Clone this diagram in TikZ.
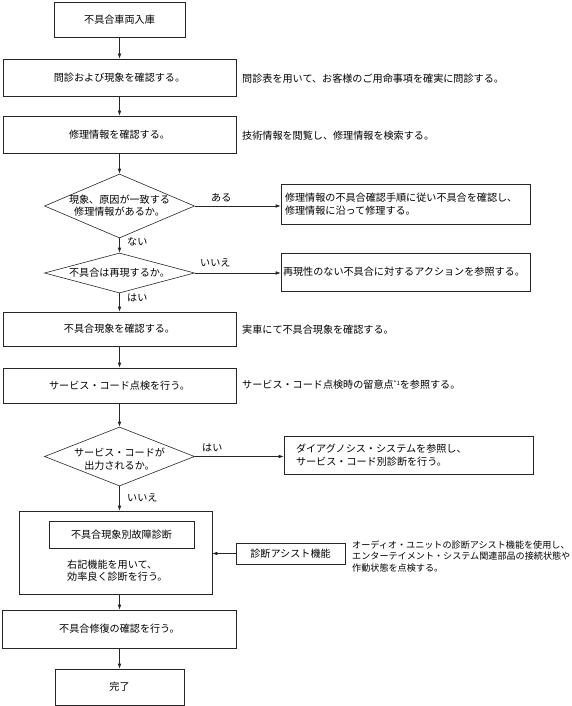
\documentclass[tikz,border=0pt]{standalone}
\usepackage{fontspec}
\setmainfont{Noto Sans CJK JP}
\usetikzlibrary{shapes.geometric,arrows.meta}
\begin{document}
\begin{tikzpicture}[x=1pt,y=-1pt,
  every node/.style={font=\fontsize{10.1}{13}\selectfont, text=black},
  box/.style={draw=black!85, line width=0.6pt, inner sep=0pt, align=center},
  dia/.style={draw=black!85, line width=0.6pt, diamond, inner sep=0pt, minimum width=150pt, minimum height=#1},
  lbl/.style={inner sep=0pt, anchor=west},
  note/.style={inner sep=0pt, anchor=west, align=left},
  arr/.style={draw=black!85, line width=0.6pt, -{Latex[length=5pt,width=3.6pt]}}]
\useasboundingbox (0,0) rectangle (572,706);

\node[box, minimum width=131pt, minimum height=35pt] (b1) at (119.5,19.5) {不具合車両入庫};
\node[box, minimum width=233pt, minimum height=37pt] (b2) at (119.5,77.5) {問診および現象を確認する。};
\node[note] (t2) at (242,79) {問診表を用いて、お客様のご用命事項を確実に問診する。};
\node[box, minimum width=233pt, minimum height=37pt] (b3) at (119.5,134.5) {修理情報を確認する。};
\node[note] (t3) at (242,136) {技術情報を閲覧し、修理情報を検索する。};

\node[dia=64pt] (d1) at (119.5,206) {};
\node[align=center, inner sep=0pt, font=\fontsize{10.1}{12}\selectfont] (d1t) at (119.5,206) {現象、原因が一致する\\修理情報があるか。};
\node[box, minimum width=249pt, minimum height=40pt, text width=241pt, inner xsep=4pt, align=left] (b4) at (405.5,204) {修理情報の不具合確認手順に従い不具合を確認し、\\修理情報に沿って修理する。};
\node[lbl] (l1) at (211,198) {ある};
\node[lbl] (l2) at (127,242) {ない};

\node[dia=40pt] (d2) at (119.5,273) {};
\node[inner sep=0pt] (d2t) at (119.5,273) {不具合は再現するか。};
\node[box, minimum width=249pt, minimum height=38pt, text width=245pt, inner xsep=2pt, align=left] (b5) at (405.5,272) {再現性のない不具合に対するアクションを参照する。};
\node[lbl] (l3) at (200,263) {いいえ};
\node[lbl] (l4) at (127,298) {はい};

\node[box, minimum width=233pt, minimum height=34pt] (b6) at (119.5,329) {不具合現象を確認する。};
\node[note] (t6) at (242,330) {実車にて不具合現象を確認する。};
\node[box, minimum width=233pt, minimum height=35pt] (b7) at (119.5,385.5) {サービス・コード点検を行う。};
\node[note] (t7) at (242,385) {サービス・コード点検時の留意点{\fontsize{6}{6}\selectfont\raisebox{3pt}{*1}}を参照する。};

\node[dia=59pt] (d3) at (119.5,456.5) {};
\node[align=center, inner sep=0pt, font=\fontsize{10.1}{13}\selectfont] (d3t) at (119.5,459) {サービス・コードが\\出力されるか。};
\node[box, minimum width=249pt, minimum height=38pt, text width=225pt, inner xsep=12pt, align=left] (b8) at (408.5,455) {ダイアグノシス・システムを参照し、\\サービス・コード別診断を行う。};
\node[lbl] (l5) at (202,448) {はい};
\node[lbl] (l6) at (127,498) {いいえ};

\node[box, minimum width=193pt, minimum height=83pt] (b9) at (115.5,552.5) {};
\node[box, minimum width=145pt, minimum height=27pt] (b9a) at (121.5,534.5) {不具合現象別故障診断};
\node[note, font=\fontsize{10.1}{12}\selectfont] (b9t) at (67,570.5) {右記機能を用いて、\\効率良く診断を行う。};
\node[box, minimum width=109pt, minimum height=21pt] (as) at (290.5,553.5) {診断アシスト機能};
\node[note, font=\fontsize{9.1}{11.5}\selectfont] (ast) at (352,556.5) {オーディオ・ユニットの診断アシスト機能を使用し、\\エンターテイメント・システム関連部品の接続状態や\\作動状態を点検する。};

\node[box, minimum width=234pt, minimum height=38pt] (b10) at (119.5,629) {不具合修復の確認を行う。};
\node[box, minimum width=129pt, minimum height=36pt] (b11) at (119.5,687) {完了};

\draw[arr] (b1.south) -- (b2.north);
\draw[arr] (b2.south) -- (b3.north);
\draw[arr] (b3.south) -- (d1.north);
\draw[arr] (d1.east) -- (d1.east -| b4.west);
\draw[arr] (d1.south) -- (d2.north);
\draw[arr] (d2.east) -- (d2.east -| b5.west);
\draw[arr] (d2.south) -- (b6.north);
\draw[arr] (b6.south) -- (b7.north);
\draw[arr] (b7.south) -- (d3.north);
\draw[arr] (d3.east) -- (d3.east -| b8.west);
\draw[arr] (d3.south) -- (d3.south |- b9.north);
\draw[arr] (as.west) -- (as.west -| b9.east);
\draw[arr] (d3.south |- b9.south) -- (b10.north);
\draw[arr] (b10.south) -- (b11.north);
\end{tikzpicture}
\end{document}
